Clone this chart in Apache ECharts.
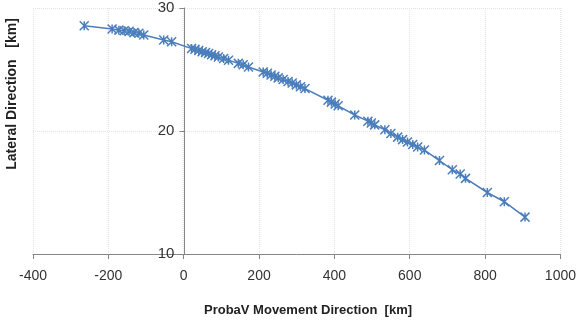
<!DOCTYPE html>
<html>
<head>
<meta charset="utf-8">
<script src="https://cdn.jsdelivr.net/npm/echarts@6/dist/echarts.min.js"></script>
<style>
  html, body { margin: 0; padding: 0; background: #fff; }
  #chart { width: 579px; height: 327px; }
</style>
</head>
<body>
<div id="chart"></div>
<script>
// along-track position [km]
var xVals = [-264, -190, -172, -158, -145, -132, -119, -106, -53, -32,
  21, 30, 40, 49, 58, 66, 74, 83, 92, 106, 119, 145, 158, 172,
  211, 222, 232, 242, 251, 264, 277, 288, 299, 310, 322,
  383, 392, 402, 410, 454, 489, 498, 507, 534, 550, 568, 581, 594, 608, 621, 639,
  679, 713, 734, 748, 806, 851, 906];
// lateral position [km]
var yVals = [28.55, 28.3, 28.2, 28.15, 28.1, 28.0, 27.95, 27.8, 27.4, 27.25,
  26.7, 26.65, 26.55, 26.45, 26.38, 26.3, 26.2, 26.12, 26.02, 25.9, 25.75, 25.5, 25.38, 25.2,
  24.8, 24.7, 24.55, 24.45, 24.32, 24.18, 24.02, 23.9, 23.75, 23.6, 23.45,
  22.5, 22.35, 22.2, 22.05, 21.3, 20.8, 20.65, 20.5, 20.1, 19.8, 19.5, 19.3, 19.1, 18.9, 18.7, 18.45,
  17.6, 16.85, 16.5, 16.15, 15.0, 14.25, 13.0];

var xTitle = 'ProbaV Movement Direction  [km]';
var yTitle = 'Lateral Direction   [km]';

var blue = '#4a7ebb';
var axisGrey = '#868686';
var labelFont = 'Liberation Sans';

var points = xVals.map(function (x, i) { return [x, yVals[i]]; });

var chart = echarts.init(document.getElementById('chart'));

// y axis sits at x = 0: shift it right from the grid's left edge
var gridLeft = 33, gridRight = 16, xMin = -400, xMax = 1000;
var plotW = 579 - gridLeft - gridRight;
var zeroShift = (0 - xMin) / (xMax - xMin) * plotW;

var option = {
  animation: false,
  grid: { left: gridLeft, right: gridRight, top: 8, bottom: 73 },
  xAxis: {
    type: 'value',
    min: xMin,
    max: xMax,
    interval: 200,
    axisLine: { onZero: false, lineStyle: { color: axisGrey, width: 1 } },
    axisTick: { show: true, length: 5, lineStyle: { color: axisGrey } },
    axisLabel: {
      color: '#333', fontSize: 14, fontFamily: labelFont, margin: 15,
      formatter: function (v) { return String(v); }
    },
    splitLine: { show: true, lineStyle: { color: '#e4e4e4', type: 'dotted' } }
  },
  yAxis: {
    type: 'value',
    min: 10,
    max: 30,
    interval: 10,
    offset: -zeroShift,
    axisLine: { show: true, onZero: false, lineStyle: { color: axisGrey, width: 1 } },
    axisTick: { show: true, length: 5, lineStyle: { color: axisGrey } },
    axisLabel: { color: '#333', fontSize: 15, fontFamily: labelFont, margin: 10 },
    splitLine: { show: true, lineStyle: { color: '#e4e4e4', type: 'dotted' } }
  },
  series: [{
    type: 'line',
    data: points,
    symbol: 'path://M0 0L10 10M10 0L0 10M5 0L5 10',
    symbolSize: 9,
    showAllSymbol: true,
    lineStyle: { color: blue, width: 1.5 },
    itemStyle: { color: 'none', borderColor: blue, borderWidth: 1.5 }
  }],
  graphic: [
    {
      type: 'text',
      left: 316 - 112,
      top: 304,
      style: {
        text: xTitle,
        font: 'bold 13px "Liberation Sans"',
        fill: '#222'
      }
    },
    {
      type: 'text',
      x: 12,
      y: 94,
      rotation: Math.PI / 2,
      style: {
        text: yTitle,
        font: 'bold 14px "Liberation Sans"',
        fill: '#222',
        align: 'center',
        verticalAlign: 'middle'
      }
    }
  ]
};

chart.setOption(option);
</script>
</body>
</html>
